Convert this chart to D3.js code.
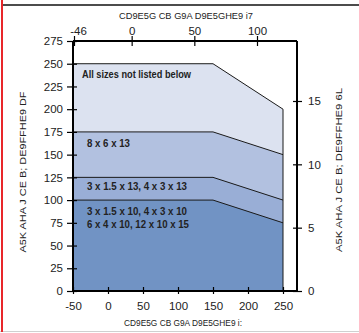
<!DOCTYPE html>
<html>
<head>
<meta charset="utf-8">
<script src="https://cdn.jsdelivr.net/npm/d3@7"></script>
<style>
  html, body { margin: 0; padding: 0; background: #fff; }
  svg { display: block; }
  .tick text { font-family: "Liberation Sans", Arial, sans-serif; font-size: 11.5px; fill: #222; }
</style>
</head>
<body>
<svg id="chart" width="359" height="333"></svg>
<script>
// Temperature breakpoints (°F) and pressure limits (psi) per size group
const tempF = [-50, 150, 250];
const limitAll = [250, 250, 200];
const limit8x6x13 = [175, 175, 150];
const limit13 = [125, 125, 100];
const limit10 = [100, 100, 75];

const bottomTicks = [-50, 0, 50, 100, 150, 200, 250];
const topTicks = [-46, 0, 50, 100];
const leftTicks = [0, 25, 50, 75, 100, 125, 150, 175, 200, 225, 250, 275];
const rightTicks = [0, 5, 10, 15];

const bands = [
  { values: limitAll, fill: "#dce2f0", lx: 82,
    label: [{ t: "All sizes not listed below", y: 74, w: 109 }] },
  { values: limit8x6x13, fill: "#b2c1e0", lx: 87,
    label: [{ t: "8 x 6 x 13", y: 143, w: 43 }] },
  { values: limit13, fill: "#99aed6", lx: 87,
    label: [{ t: "3 x 1.5 x 13, 4 x 3 x 13", y: 186, w: 100 }] },
  { values: limit10, fill: "#7193c4", lx: 87,
    label: [{ t: "3 x 1.5 x 10, 4 x 3 x 10", y: 211, w: 100 },
            { t: "6 x 4 x 10, 12 x 10 x 15", y: 224, w: 102 }] }
];

const svg = d3.select("#chart");

// Frame decorations
svg.append("line").attr("x1", 3).attr("x2", 359).attr("y1", 5).attr("y2", 5)
  .attr("stroke", "#111").attr("stroke-width", 1.5);
svg.append("line").attr("x1", 0).attr("x2", 359).attr("y1", 331.5).attr("y2", 331.5)
  .attr("stroke", "#d0d0d0").attr("stroke-width", 1);
svg.append("line").attr("x1", 2).attr("x2", 2).attr("y1", 0).attr("y2", 332)
  .attr("stroke", "#e8262a").attr("stroke-width", 2);

const x = d3.scaleLinear().domain([-50, 270]).range([73, 297]);
const xC = d3.scaleLinear().domain([-46, 100]).range([74, 257]);
const y = d3.scaleLinear().domain([0, 275]).range([291, 41]);
const yR = d3.scaleLinear().domain([0, 250 / 12.667]).range([291, 41]);

const area = d3.area().x((d, i) => x(tempF[i])).y0(y(0)).y1(d => y(d));
const line = d3.line().x((d, i) => x(tempF[i])).y(d => y(d));

bands.forEach(b => {
  svg.append("path").datum(b.values).attr("d", area).attr("fill", b.fill);
});
bands.forEach(b => {
  svg.append("path").datum(b.values).attr("d", line)
    .attr("fill", "none").attr("stroke", "#1a1a1a").attr("stroke-width", 1);
});
// right edge of the envelope
svg.append("line")
  .attr("x1", x(250)).attr("x2", x(250))
  .attr("y1", y(0)).attr("y2", y(limitAll[2]))
  .attr("stroke", "#1a1a1a").attr("stroke-width", 1);

// Band labels (condensed bold)
const labelFont = "'Liberation Sans', Arial, sans-serif";
bands.forEach(b => {
  b.label.forEach(l => {
    svg.append("text").attr("x", b.lx).attr("y", l.y).attr("dy", "0.35em")
      .attr("font-family", labelFont)
      .attr("font-weight", "bold").attr("font-size", 11).attr("fill", "#222")
      .attr("textLength", l.w).attr("lengthAdjust", "spacingAndGlyphs")
      .text(l.t);
  });
});

// Box borders
svg.append("line").attr("x1", 73).attr("x2", 297).attr("y1", 41).attr("y2", 41)
  .attr("stroke", "#000").attr("stroke-width", 2);
svg.append("line").attr("x1", 297).attr("x2", 297).attr("y1", 41).attr("y2", 291)
  .attr("stroke", "#000").attr("stroke-width", 2);

// Axes
function crossTicks(g, a, b, horiz) {
  g.select(".domain").remove();
  g.selectAll(".tick line").attr("stroke", "#000").attr("stroke-width", 1.2);
  if (horiz) g.selectAll(".tick line").attr("y1", a).attr("y2", b);
  else g.selectAll(".tick line").attr("x1", a).attr("x2", b);
}

const gB = svg.append("g").attr("transform", `translate(0,${y(0)})`)
  .call(d3.axisBottom(x).tickValues(bottomTicks).tickSize(4).tickPadding(7));
crossTicks(gB, -4, 3, true);
gB.selectAll(".tick text").text(d => d < 0 ? "-" + Math.abs(d) : d);

const gT = svg.append("g").attr("transform", `translate(0,41)`)
  .call(d3.axisTop(xC).tickValues(topTicks).tickSize(5).tickPadding(1));
crossTicks(gT, -5, 5, true);
gT.selectAll(".tick text").text(d => d < 0 ? "-" + Math.abs(d) : d)
  .attr("dx", d => d === -46 ? 4 : 0);

const gL = svg.append("g").attr("transform", `translate(73,0)`)
  .call(d3.axisLeft(y).tickValues(leftTicks).tickSize(6).tickPadding(4));
crossTicks(gL, -6, 4, false);

const gR = svg.append("g").attr("transform", `translate(297,0)`)
  .call(d3.axisRight(yR).tickValues(rightTicks).tickSize(5).tickPadding(6));
crossTicks(gR, -4, 5, false);

// axis lines on top
svg.append("line").attr("x1", 73).attr("x2", 73).attr("y1", 41).attr("y2", 292)
  .attr("stroke", "#000").attr("stroke-width", 2);
svg.append("line").attr("x1", 72).attr("x2", 297).attr("y1", 291).attr("y2", 291)
  .attr("stroke", "#000").attr("stroke-width", 2);

// Axis titles
const titleFont = "'Liberation Sans', Arial, sans-serif";
function title(txt, tx, ty, rot, w) {
  svg.append("text")
    .attr("transform", `translate(${tx},${ty})` + (rot ? " rotate(-90)" : ""))
    .attr("text-anchor", "middle")
    .attr("font-family", titleFont).attr("font-size", 9.5).attr("fill", "#222")
    .attr("textLength", w).attr("lengthAdjust", "spacingAndGlyphs")
    .text(txt);
}
title("CD9E5G CB G9A D9E5GHE9 i7", 186, 19, false, 134);
title("CD9E5G CB G9A D9E5GHE9 i:", 183, 325.5, false, 118);
title("A5K AHA J CE  B;  DE9FFHE9 DF", 25.5, 172, true, 161);
title("A5K AHA J CE  B;  DE9FFHE9 6L", 341.5, 170, true, 164);
</script>
</body>
</html>
